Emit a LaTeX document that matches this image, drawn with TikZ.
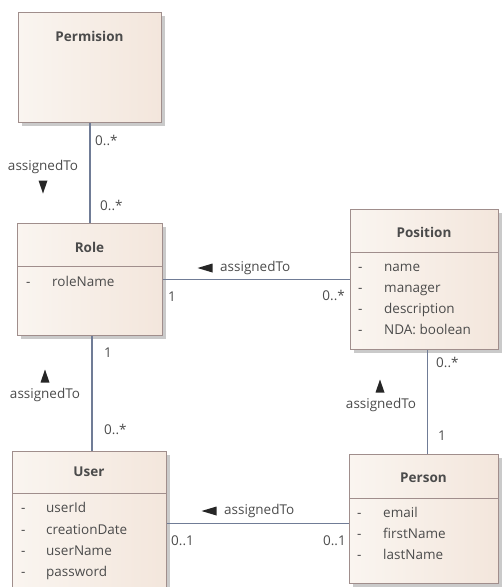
\documentclass[tikz,border=0pt]{standalone}
\usepackage{fontspec}
\setmainfont{Open Sans}
\usetikzlibrary{positioning,shadows}
\definecolor{boxfillL}{RGB}{250,245,240}
\definecolor{boxfillR}{RGB}{243,230,220}
\definecolor{boxline}{RGB}{160,142,140}
\definecolor{assocline}{RGB}{112,124,150}
\definecolor{txtgrey}{RGB}{75,75,75}
\newcommand\trdown[2]{\fill[black!85] (#1-4.5,#2-6.5) -- (#1+4.5,#2-6.5) -- (#1,#2+6.5) -- cycle;}
\newcommand\trup[2]{\fill[black!85] (#1-4.5,#2+6.5) -- (#1+4.5,#2+6.5) -- (#1,#2-6.5) -- cycle;}
\newcommand\trleft[2]{\fill[black!85] (#1+7.5,#2-4.5) -- (#1+7.5,#2+4.5) -- (#1-7.5,#2) -- cycle;}

\begin{document}
\begin{tikzpicture}[x=1pt,y=-1pt,
    classbox/.style={draw=boxline, line width=1pt, left color=boxfillL, right color=boxfillR,
        drop shadow={shadow xshift=3pt, shadow yshift=-3pt, fill=black!35, opacity=0.6},
        anchor=north west, inner sep=0pt},
    classname/.style={font=\fontsize{13.5}{16}\selectfont\bfseries, text=txtgrey},
    attr/.style={font=\fontsize{13.5}{16}\selectfont, text=txtgrey, anchor=west, inner sep=0pt,
        text height=10pt, text depth=3pt},
    mult/.style={font=\fontsize{13.5}{16}\selectfont, text=txtgrey, inner sep=0pt,
        text height=10pt, text depth=3pt},
    assoc/.style={draw=assocline, line width=1.2pt}]
    \clip (0,0) rectangle (502,587);

    % Draw the classes
    \node[classbox, minimum width=143pt, minimum height=110pt] (perm) at (18,12) {};
    \node[classbox, minimum width=145pt, minimum height=112pt] (role) at (17,223) {};
    \node[classbox, minimum width=148pt, minimum height=140pt] (pos) at (350,209) {};
    \node[classbox, minimum width=149pt, minimum height=129pt] (person) at (349,454) {};
    \node[classbox, minimum width=154pt, minimum height=144pt] (user) at (12,451) {};

    \node[classname] (permT) at (89.5,36) {Permision};
    \node[classname] (roleT) at (89.5,247) {Role};
    \node[classname] (posT) at (424,232) {Position};
    \node[classname] (personT) at (423.5,478) {Person};
    \node[classname] (userT) at (89,472) {User};

    \draw[boxline, line width=1pt] (role.west |- 0,266) -- (role.east |- 0,266);
    \draw[boxline, line width=1pt] (pos.west |- 0,252) -- (pos.east |- 0,252);
    \draw[boxline, line width=1pt] (person.west |- 0,498) -- (person.east |- 0,498);
    \draw[boxline, line width=1pt] (user.west |- 0,493) -- (user.east |- 0,493);

    % Draw the attributes
    \node[attr] (roleD1) at (26,283) {-};
    \node[attr] (roleA1) at (52,283) {roleName};
    \foreach \a [count=\i] in {name, manager, description, NDA: boolean} {
        \node[attr] (posD\i) at (358,247+21*\i) {-};
        \node[attr] (posA\i) at (384,247+21*\i) {\a};
    }
    \foreach \a [count=\i] in {email, firstName, lastName} {
        \node[attr] (personD\i) at (357,493+21*\i) {-};
        \node[attr] (personA\i) at (383,493+21*\i) {\a};
    }
    \foreach \a [count=\i] in {userId, creationDate, userName, password} {
        \node[attr] (userD\i) at (21,488+21.3*\i) {-};
        \node[attr] (userA\i) at (46,488+21.3*\i) {\a};
    }

    % Draw the associations
    \draw[assoc] (perm.south) -- (role.north);
    \draw[assoc] (role.east) -- (role.east -| pos.west);
    \draw[assoc] ([xshift=2pt]role.south) -- ([xshift=2pt]role.south |- user.north);
    \draw[assoc] ([xshift=3pt]pos.south) -- ([xshift=3pt]pos.south |- person.north);
    \draw[assoc] (user.east) -- (user.east -| person.west);

    % Permision -- Role
    \node[mult, anchor=west] (prM1) at (95,142) {0..*};
    \node[mult, anchor=west] (prM2) at (100,207) {0..*};
    \node[mult] (prL) at (43,167) {assignedTo};
    \trdown{43}{187}

    % Role -- Position
    \trleft{205}{268}
    \node[mult, anchor=west] (rpL) at (220,268) {assignedTo};
    \node[mult, anchor=west] (rpM1) at (168,298) {1};
    \node[mult, anchor=east] (rpM2) at (345,297) {0..*};

    % Role -- User
    \node[mult, anchor=west] (ruM1) at (104,354) {1};
    \trup{45}{376}
    \node[mult] (ruL) at (45,395) {assignedTo};
    \node[mult, anchor=west] (ruM2) at (104,431) {0..*};

    % Position -- Person
    \node[mult, anchor=west] (ppM1) at (436,364) {0..*};
    \trup{380}{386}
    \node[mult] (ppL) at (381,405) {assignedTo};
    \node[mult, anchor=west] (ppM2) at (438,437) {1};

    % User -- Person
    \trleft{209}{511}
    \node[mult, anchor=west] (upL) at (224,511) {assignedTo};
    \node[mult, anchor=west] (upM1) at (171,542) {0..1};
    \node[mult, anchor=east] (upM2) at (346,542) {0..1};
\end{tikzpicture}
\end{document}
